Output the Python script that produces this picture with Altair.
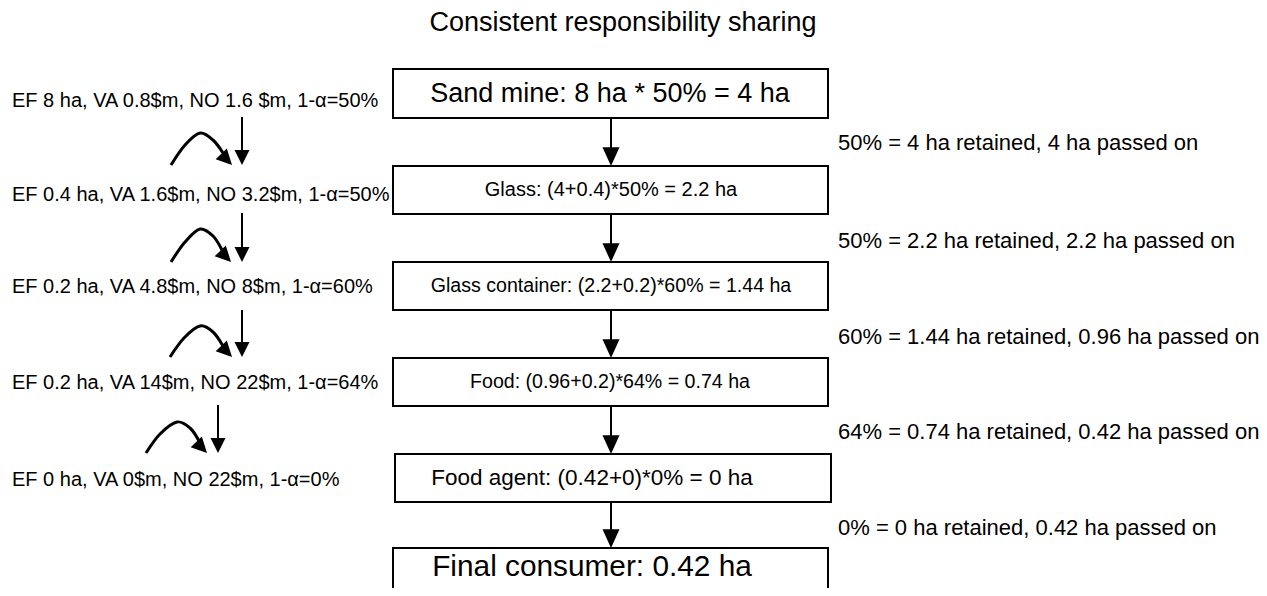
import altair as alt
import pandas as pd

# ---------------- text content ----------------
title_text = ["Consistent responsibility sharing"]

box_labels = [
    "Sand mine: 8 ha * 50% = 4 ha",
    "Glass:  (4+0.4)*50% = 2.2 ha",
    "Glass container: (2.2+0.2)*60% = 1.44 ha",
    "Food: (0.96+0.2)*64% = 0.74 ha",
    "Food agent: (0.42+0)*0% = 0 ha",
    "Final consumer: 0.42 ha",
]
left_labels = [
    "EF 8 ha, VA 0.8$m, NO 1.6 $m, 1-\u03b1=50%",
    "EF 0.4 ha, VA 1.6$m, NO 3.2$m, 1-\u03b1=50%",
    "EF 0.2 ha, VA 4.8$m, NO 8$m, 1-\u03b1=60%",
    "EF 0.2 ha, VA 14$m, NO 22$m, 1-\u03b1=64%",
    "EF 0 ha, VA 0$m, NO 22$m, 1-\u03b1=0%",
]
right_labels = [
    "50% = 4 ha retained, 4 ha passed on",
    "50% = 2.2 ha retained, 2.2 ha passed on",
    "60% = 1.44 ha retained, 0.96 ha passed on",
    "64% = 0.74 ha retained, 0.42 ha passed on",
    "0% = 0 ha retained, 0.42 ha passed on",
]

# ---------------- diagram layout (reference pixel units) ----------------
box_x0 = [393, 393, 393, 393, 395, 393]
box_x1 = [828, 828, 828, 828, 831, 828]
box_y0 = [69, 166, 262, 358, 454, 548]
box_y1 = [118, 214, 310, 406, 502, 640]
box_text_x = [610, 611, 611, 610, 592, 592]
box_text_y = [94, 190, 286, 382, 478, 567]
box_font = [27, 20, 19.6, 19.6, 22.5, 29.8]

left_y = [101, 195, 287, 383, 480]
right_y = [143, 241, 337, 432, 528]

small_x = [242, 242, 242, 218]
small_y0 = [117, 213, 310, 405]
small_tip = [165, 262, 357, 453]

curve_id = [0] * 5 + [1] * 5 + [2] * 5 + [3] * 5
curve_x = [171, 185, 200, 213, 223,
           171, 185, 200, 213, 222,
           170, 184, 200, 213, 223,
           146, 160, 177, 190, 199]
curve_y = [165, 145, 133, 140, 153,
           262, 242, 229, 236, 250,
           357, 338, 326, 332, 346,
           453, 434, 422, 428, 441]
curve_tip_x = [232, 231, 232, 207]
curve_tip_y = [165, 262, 357, 453]

MAIN_X = 611

# ---------------- frames ----------------
W, H = 1251, 580
xs = alt.Scale(domain=[8, 8 + W], nice=False, zero=False)
ys = alt.Scale(domain=[8, 8 + H], nice=False, zero=False, reverse=True)
REG = "Liberation Sans, Arial, Helvetica, sans-serif"
HEAD_PATH = "M0,0L-1,-2.2L1,-2.2Z"
HEAD_SMALL = "M0,0L-1,-2L1,-2Z"

boxes = pd.DataFrame({"x0": box_x0, "x1": box_x1, "y0": box_y0, "y1": box_y1,
                      "label": box_labels,
                      "xc": box_text_x,
                      "yc": box_text_y,
                      "fs": box_font})

main_arrows = pd.DataFrame({"x": [MAIN_X] * 5,
                            "y0": box_y1[:5],
                            "tip": box_y0[1:]})
main_arrows["y1"] = main_arrows["tip"] - 8

small = pd.DataFrame({"x": small_x, "y0": small_y0, "tip": small_tip})
small["y1"] = small["tip"] - 6

curves = pd.DataFrame({"id": curve_id, "x": curve_x, "y": curve_y,
                       "order": list(range(len(curve_x)))})
curve_heads = pd.DataFrame({"x": curve_tip_x, "y": curve_tip_y})

lefts = pd.DataFrame({"x": [12] * 5, "y": left_y, "label": left_labels})
rights = pd.DataFrame({"x": [838] * 5, "y": right_y, "label": right_labels})
title = pd.DataFrame({"x": [623], "y": [23], "label": title_text})


def X(f="x"):
    return alt.X(f, type="quantitative", scale=xs, axis=None)


def Y(f="y"):
    return alt.Y(f, type="quantitative", scale=ys, axis=None)


rect_layer = alt.Chart(boxes).mark_rect(fill="white", stroke="black", strokeWidth=2, clip=True).encode(
    x=X("x0"), x2="x1", y=Y("y0"), y2="y1")

box_text = alt.Chart(boxes).mark_text(font=REG, align="center", baseline="middle",
                                      color="black").encode(
    x=X("xc"), y=Y("yc"), text="label:N",
    size=alt.Size("fs:Q", scale=None, legend=None))

main_shaft = alt.Chart(main_arrows).mark_rule(color="black", strokeWidth=2).encode(
    x=X("x"), y=Y("y0"), y2="y1")
main_head = alt.Chart(main_arrows).mark_point(shape=HEAD_PATH, filled=True, fill="black",
                                              strokeWidth=0, opacity=1, size=289).encode(
    x=X("x"), y=Y("tip"))

small_shaft = alt.Chart(small).mark_rule(color="black", strokeWidth=2).encode(
    x=X("x"), y=Y("y0"), y2="y1")
small_head = alt.Chart(small).mark_point(shape=HEAD_SMALL, filled=True, fill="black",
                                         strokeWidth=0, opacity=1, size=225).encode(
    x=X("x"), y=Y("tip"))

curve_line = alt.Chart(curves).mark_line(color="black", strokeWidth=3, interpolate="cardinal").encode(
    x=X("x"), y=Y("y"), detail="id:N", order="order:Q")
curve_head = alt.Chart(curve_heads).mark_point(shape=HEAD_SMALL, filled=True, fill="black",
                                               strokeWidth=0, opacity=1, size=240, angle=316).encode(
    x=X("x"), y=Y("y"))

left_text = alt.Chart(lefts).mark_text(font=REG, fontSize=20, align="left", baseline="middle",
                                       color="black").encode(x=X("x"), y=Y("y"), text="label:N")
right_text = alt.Chart(rights).mark_text(font=REG, fontSize=22, align="left", baseline="middle",
                                         color="black").encode(x=X("x"), y=Y("y"), text="label:N")
title_layer = alt.Chart(title).mark_text(font=REG, fontSize=27, align="center", baseline="middle",
                                         color="black").encode(x=X("x"), y=Y("y"), text="label:N")

chart = alt.layer(
    rect_layer, box_text, main_shaft, main_head, small_shaft, small_head,
    curve_line, curve_head, left_text, right_text, title_layer
).properties(
    width=W, height=H, padding=0, background="white",
    autosize=alt.AutoSizeParams(type="none")
).configure_view(strokeWidth=0, stroke="transparent")

chart.save("out.html", embed_options={"renderer": "svg", "actions": False})
